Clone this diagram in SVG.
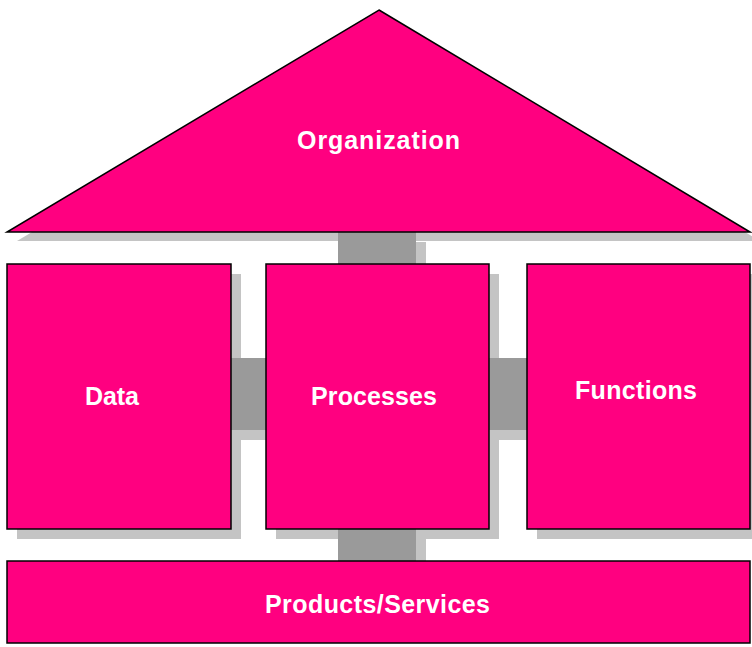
<svg xmlns="http://www.w3.org/2000/svg" width="752" height="647" viewBox="0 0 752 647">
  <style>
    .node { fill: #FF0080; stroke: #000000; stroke-width: 1.5; }
    .shadow { fill: #C4C4C4; stroke: none; }
    .conn { fill: #9A9A9A; stroke: none; }
    .label { fill: #FFFFFF; font-family: "Liberation Sans", Arial, sans-serif; font-weight: bold; font-size: 25px; }
  </style>
  <rect x="0" y="0" width="752" height="647" fill="#FFFFFF"/>
  <g id="shadows">
    <polygon class="shadow" points="389,19 760,241 17,241"/>
    <rect class="shadow" x="17" y="274" width="224" height="265"/>
    <rect class="shadow" x="276" y="274" width="223" height="265"/>
    <rect class="shadow" x="537" y="274" width="223" height="265"/>
    <rect class="shadow" x="348" y="242" width="78" height="32"/>
    <rect class="shadow" x="348" y="539" width="78" height="32"/>
    <rect class="shadow" x="241" y="368" width="35" height="72"/>
    <rect class="shadow" x="499" y="368" width="38" height="72"/>
  </g>
  <g id="connectors">
    <rect class="conn" x="338" y="232" width="78" height="32"/>
    <rect class="conn" x="338" y="529" width="78" height="32"/>
    <rect class="conn" x="231" y="358" width="35" height="72"/>
    <rect class="conn" x="489" y="358" width="38" height="72"/>
  </g>
  <g id="organization">
    <polygon class="node" points="379,10 750,232 7,232"/>
    <text class="label" x="297" y="149" textLength="163" lengthAdjust="spacing">Organization</text>
  </g>
  <g id="data">
    <rect class="node" x="7" y="264" width="224" height="265"/>
    <text class="label" x="85" y="405" textLength="54" lengthAdjust="spacing">Data</text>
  </g>
  <g id="processes">
    <rect class="node" x="266" y="264" width="223" height="265"/>
    <text class="label" x="311" y="405" textLength="126" lengthAdjust="spacing">Processes</text>
  </g>
  <g id="functions">
    <rect class="node" x="527" y="264" width="223" height="265"/>
    <text class="label" x="575" y="399" textLength="122" lengthAdjust="spacing">Functions</text>
  </g>
  <g id="products-services">
    <rect class="node" x="7" y="561" width="743" height="82"/>
    <text class="label" x="265" y="613" textLength="225" lengthAdjust="spacing">Products/Services</text>
  </g>
</svg>
